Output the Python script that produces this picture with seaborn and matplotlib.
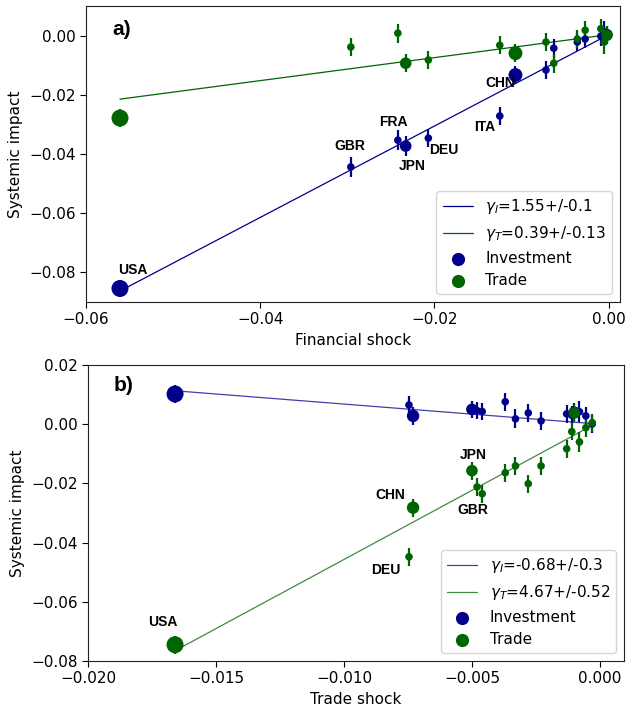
import numpy as np
import pandas as pd
import matplotlib
matplotlib.use('Agg')
import matplotlib.pyplot as plt
import seaborn as sns

# colours
blue = '#00008B'
green = '#006400'

# ---- panel a) : financial shock ----
a_shock = [-0.0561, -0.0296, -0.0242, -0.0233, -0.0207, -0.0125, -0.0107,
           -0.0072, -0.0063, -0.0036, -0.0027, -0.0009, -0.0005, -0.0002]
a_invest = [-0.0856, -0.0444, -0.0353, -0.0373, -0.0346, -0.0271, -0.0132,
            -0.0115, -0.0041, -0.0020, -0.0010, 0.0000, 0.0015, 0.0005]
a_trade = [-0.0278, -0.0037, 0.0010, -0.0092, -0.0081, -0.0031, -0.0058,
           -0.0020, -0.0092, -0.0010, 0.0020, 0.0025, -0.0020, 0.0003]
a_err_inv = [0.0030, 0.0034, 0.0034, 0.0034, 0.0030, 0.0032, 0.0030,
             0.0032, 0.0032, 0.0030, 0.0032, 0.0034, 0.0036, 0.0030]
a_err_tr = [0.0030, 0.0030, 0.0032, 0.0030, 0.0030, 0.0030, 0.0030,
            0.0030, 0.0032, 0.0032, 0.0030, 0.0032, 0.0040, 0.0030]
a_size = [150, 30, 30, 70, 30, 30, 100, 30, 30, 30, 30, 30, 30, 70]
a_fit = {'inv': (1.55, 0.0005), 'tr': (0.39, 0.0005)}
a_lab = ['USA', 'GBR', 'FRA', 'JPN', 'DEU', 'ITA', 'CHN']
a_lab_x = [-0.0546, -0.0297, -0.0247, -0.0226, -0.0189, -0.0142, -0.0125]
a_lab_y = [-0.0793, -0.0373, -0.0292, -0.0441, -0.0386, -0.0308, -0.0159]

# ---- panel b) : trade shock ----
b_shock = [-0.0166, -0.00746, -0.0073, -0.0050, -0.0048, -0.0046, -0.0037,
           -0.0033, -0.0028, -0.0023, -0.0013, -0.0011, -0.0010, -0.0008,
           -0.00055, -0.0003]
b_invest = [0.0102, 0.0065, 0.0028, 0.0050, 0.0046, 0.0043, 0.0076,
            0.0018, 0.0038, 0.0011, 0.0035, 0.0030, 0.0040, 0.0042,
            0.0028, 0.0001]
b_trade = [-0.0745, -0.0448, -0.0282, -0.0157, -0.0212, -0.0235, -0.0164,
           -0.0141, -0.0201, -0.0141, -0.0083, -0.0025, 0.0038, -0.0060,
           -0.0012, 0.0005]
b_err_inv = [0.0030, 0.0030, 0.0030, 0.0030, 0.0030, 0.0030, 0.0030,
             0.0032, 0.0030, 0.0030, 0.0030, 0.0030, 0.0030, 0.0035,
             0.0030, 0.0030]
b_err_tr = [0.0030, 0.0030, 0.0030, 0.0030, 0.0030, 0.0030, 0.0030,
            0.0030, 0.0030, 0.0030, 0.0030, 0.0030, 0.0030, 0.0035,
            0.0030, 0.0030]
b_size = [150, 30, 80, 70, 30, 30, 30, 30, 30, 30, 30, 30, 70, 30, 30, 30]
b_fit = {'inv': (-0.68, 0.0), 'tr': (4.67, 0.001)}
b_lab = ['USA', 'CHN', 'DEU', 'JPN', 'GBR']
b_lab_x = [-0.01707, -0.0082, -0.00836, -0.00496, -0.00496]
b_lab_y = [-0.0669, -0.0238, -0.0491, -0.0104, -0.0289]

sns.set_style('ticks')
plt.rcParams['font.family'] = ['DejaVu Sans']
plt.rcParams['font.size'] = 11
plt.rcParams['axes.edgecolor'] = '#222222'
plt.rcParams['text.color'] = 'black'
plt.rcParams['axes.labelcolor'] = 'black'
plt.rcParams['xtick.color'] = 'black'
plt.rcParams['ytick.color'] = 'black'
plt.rcParams['xtick.direction'] = 'out'
plt.rcParams['ytick.direction'] = 'out'

fig = plt.figure(figsize=(6.26, 7.09), dpi=100)
ax1 = fig.add_axes([0.1374, 0.5740, 0.8530, 0.4175])
ax2 = fig.add_axes([0.1406, 0.0677, 0.8562, 0.4175])


def draw_panel(ax, shock, inv, tr, err_inv, err_tr, size, fit, labels,
               inv_text, tr_text, line_alpha):
    df = pd.DataFrame({'shock': shock, 'inv': inv, 'tr': tr,
                       'err_inv': err_inv, 'err_tr': err_tr, 'size': size})
    # fitted lines over data range
    for key, col, txt in [('inv', blue, inv_text), ('tr', green, tr_text)]:
        slope, icpt = fit[key]
        xs = np.array([df['shock'].min(), df['shock'].max()])
        sns.lineplot(x=xs, y=slope * xs + icpt, ax=ax, color=col, lw=0.9,
                     alpha=line_alpha, label=txt, sort=False, estimator=None)
    # investment
    ax.errorbar(df['shock'], df['inv'], yerr=df['err_inv'], fmt='none',
                ecolor=blue, elinewidth=1.6, capsize=0)
    sns.scatterplot(x=df['shock'], y=df['inv'], s=df['size'].values, ax=ax,
                    color=blue, linewidth=0, label='Investment', zorder=3)
    # trade
    ax.errorbar(df['shock'], df['tr'], yerr=df['err_tr'], fmt='none',
                ecolor=green, elinewidth=1.6, capsize=0)
    sns.scatterplot(x=df['shock'], y=df['tr'], s=df['size'].values, ax=ax,
                    color=green, linewidth=0, label='Trade', zorder=3)
    for name, lx, ly in zip(*labels):
        ax.text(lx, ly, name, ha='center', va='center', fontsize=10,
                fontweight='bold', family='Liberation Sans')
    ax.legend(loc='lower right', fontsize=11, handlelength=2.0)


draw_panel(ax1, a_shock, a_invest, a_trade, a_err_inv, a_err_tr, a_size,
           a_fit, (a_lab, a_lab_x, a_lab_y),
           r'$\gamma_I$=1.55+/-0.1', r'$\gamma_T$=0.39+/-0.13', 1.0)
draw_panel(ax2, b_shock, b_invest, b_trade, b_err_inv, b_err_tr, b_size,
           b_fit, (b_lab, b_lab_x, b_lab_y),
           r'$\gamma_I$=-0.68+/-0.3', r'$\gamma_T$=4.67+/-0.52', 0.75)

ax1.set_xlim(-0.06, 0.0013)
ax1.set_ylim(-0.0902, 0.0102)
ax1.set_xticks([-0.06, -0.04, -0.02, 0.00])
ax1.set_yticks([-0.08, -0.06, -0.04, -0.02, 0.00])
ax1.set_xlabel('Financial shock')
ax1.set_ylabel('Systemic impact')
ax1.text(0.066, 0.92, 'a)', transform=ax1.transAxes, fontsize=15,
         fontweight='bold', family='Liberation Sans', ha='center', va='center')

ax2.set_xlim(-0.02, 0.00094)
ax2.set_ylim(-0.08, 0.02)
ax2.set_xticks([-0.020, -0.015, -0.010, -0.005, 0.000])
ax2.set_yticks([-0.08, -0.06, -0.04, -0.02, 0.00, 0.02])
ax2.set_xlabel('Trade shock')
ax2.set_ylabel('Systemic impact')
ax2.text(0.066, 0.93, 'b)', transform=ax2.transAxes, fontsize=15,
         fontweight='bold', family='Liberation Sans', ha='center', va='center')

for ax in (ax1, ax2):
    ax.tick_params(labelsize=11, length=4)

fig.savefig('out.png', dpi=100)
